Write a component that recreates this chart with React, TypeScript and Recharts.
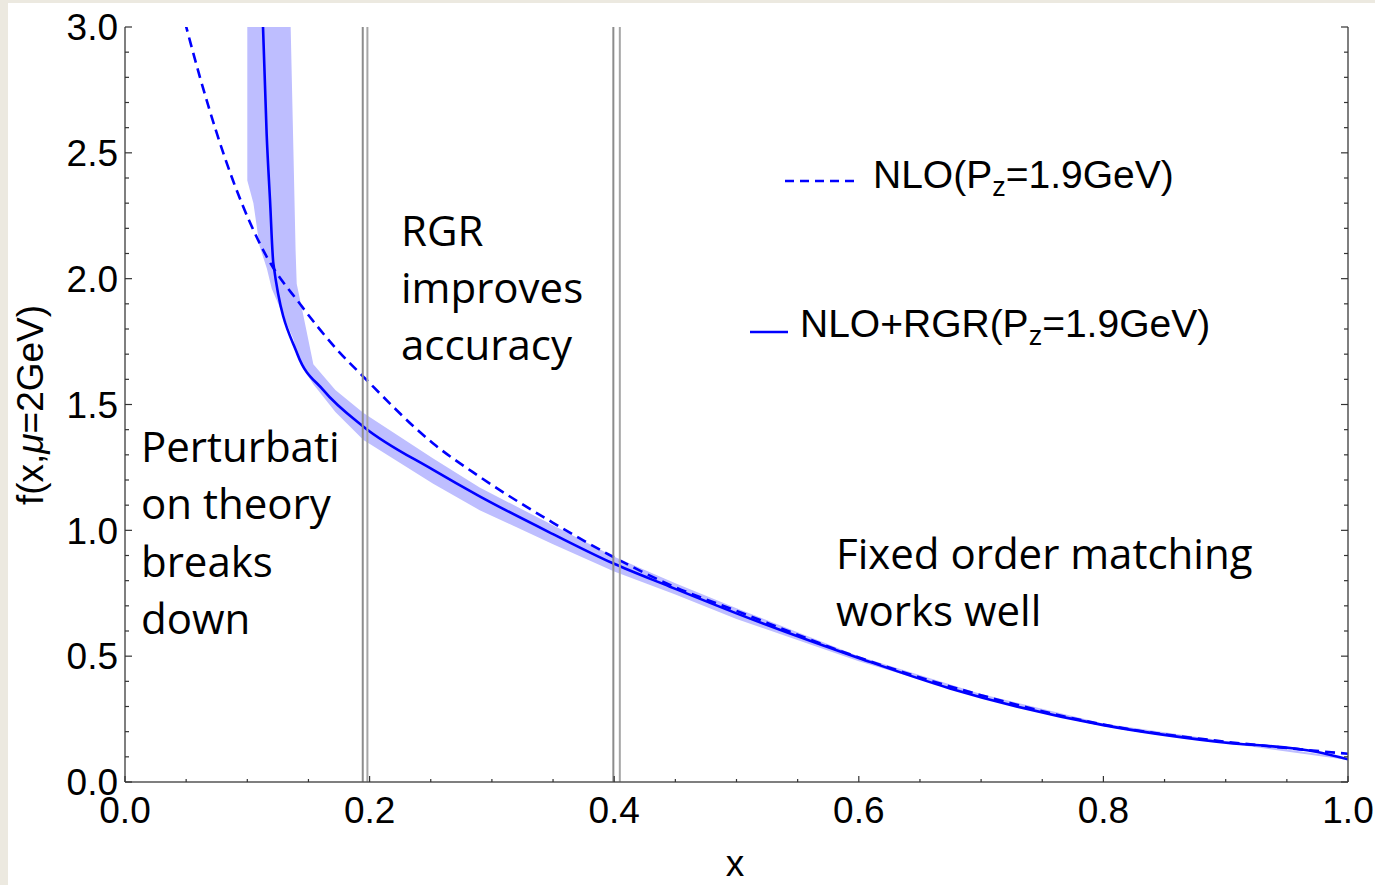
import React from 'react';
import {
  ComposedChart,
  Line,
  Area,
  XAxis,
  YAxis,
  ReferenceLine,
  Legend,
} from 'recharts';

// NLO(Pz=1.9GeV), dashed
const nloX = [0.049, 0.0613, 0.0883, 0.116, 0.143, 0.173, 0.195, 0.252, 0.29, 0.35, 0.399, 0.4456, 0.5, 0.6, 0.7, 0.8, 0.9, 0.95, 1.0];
const nloY = [3.02, 2.8, 2.39, 2.086, 1.9, 1.72, 1.61, 1.345, 1.213, 1.03, 0.895, 0.783, 0.68, 0.495, 0.345, 0.228, 0.16, 0.135, 0.112];

// NLO+RGR(Pz=1.9GeV), solid
const rgrX = [0.1125, 0.1158, 0.1186, 0.1213, 0.141, 0.162, 0.195, 0.252, 0.29, 0.35, 0.399, 0.4456, 0.5, 0.601, 0.6745, 0.8, 0.8926, 0.974, 1.0];
const rgrY = [3.05, 2.577, 2.31, 2.061, 1.7, 1.558, 1.412, 1.24, 1.135, 0.985, 0.869, 0.776, 0.67, 0.491, 0.372, 0.226, 0.16, 0.12, 0.09];

// uncertainty band of NLO+RGR
const bandX = [0.1, 0.105, 0.11, 0.116, 0.12, 0.131, 0.135, 0.1377, 0.1395, 0.1404, 0.146, 0.154, 0.172, 0.195, 0.252, 0.29, 0.35, 0.4, 0.45, 0.5, 0.6, 0.7, 0.8, 0.9, 1.0];
const bandLow = [2.39, 2.3, 2.13, 2.04, 1.96, 1.836, 1.79, 1.76, 1.72, 1.7, 1.64, 1.58, 1.47, 1.359, 1.185, 1.08, 0.945, 0.836, 0.745, 0.648, 0.48, 0.335, 0.222, 0.155, 0.087];
const bandHigh = [3.5, 3.5, 3.5, 3.5, 3.5, 3.5, 3.1, 2.51, 2.11, 1.98, 1.85, 1.66, 1.558, 1.466, 1.285, 1.17, 1.02, 0.895, 0.79, 0.69, 0.5, 0.35, 0.232, 0.163, 0.095];

// double gray separators
const dividerDark = [0.1944, 0.3993];
const dividerLight = [0.1982, 0.4046];

const xTicks = Array.from({ length: 21 }, (_, i) => i * 0.05);
const yTicks = Array.from({ length: 31 }, (_, i) => i * 0.1);

const nloData = nloX.map((x, i) => ({ x, y: nloY[i] }));
const rgrData = rgrX.map((x, i) => ({ x, y: rgrY[i] }));
const bandData = bandX.map((x, i) => ({ x, band: [bandLow[i], bandHigh[i]] }));

const AXIS_FONT = '"Liberation Sans", Arial, sans-serif';
const NOTE_FONT = '"Open Sans", "Noto Sans", sans-serif';
const BLUE = '#0000ff';
const TICK = '#333';

const onStep = (v: number, step: number) => Math.abs(v / step - Math.round(v / step)) < 1e-6;

const LeftTick = ({ x, y, payload }: any) => {
  const major = onStep(payload.value, 0.5);
  return (
    <g>
      <line x1={x} x2={x + (major ? 7 : 4)} y1={y} y2={y} stroke={TICK} strokeWidth={1.2} />
      {major && (
        <text x={x - 7} y={y} dy="0.36em" textAnchor="end" fontSize={37} fontFamily={AXIS_FONT} fill="#000">
          {payload.value.toFixed(1)}
        </text>
      )}
    </g>
  );
};

const RightTick = ({ x, y, payload }: any) => {
  const major = onStep(payload.value, 0.5);
  return <line x1={x} x2={x - (major ? 7 : 4)} y1={y} y2={y} stroke={TICK} strokeWidth={1.2} />;
};

const BottomTick = ({ x, y, payload }: any) => {
  const major = onStep(payload.value, 0.2);
  return (
    <g>
      <line x1={x} x2={x} y1={y} y2={y - (major ? 6 : 3)} stroke={TICK} strokeWidth={1.2} />
      {major && (
        <text x={x} y={y + 41} textAnchor="middle" fontSize={37} fontFamily={AXIS_FONT} fill="#000">
          {payload.value.toFixed(1)}
        </text>
      )}
    </g>
  );
};

const TopTick = ({ x, y, payload }: any) => {
  const major = onStep(payload.value, 0.2);
  return <line x1={x} x2={x} y1={y} y2={y + (major ? 6 : 3)} stroke={TICK} strokeWidth={1.2} />;
};

const renderLegend = () => (
  <svg width={520} height={220} style={{ overflow: 'visible', display: 'block' }}>
    <line x1={45} x2={118} y1={31} y2={31} stroke={BLUE} strokeWidth={2.5} strokeDasharray="9 6" />
    <text x={133} y={38} fontSize={39} fontFamily={AXIS_FONT} fill="#000">
      NLO(P<tspan dy={8} fontSize={27}>z</tspan>
      <tspan dy={-8}>=1.9GeV)</tspan>
    </text>
    <line x1={10} x2={48} y1={182} y2={182} stroke={BLUE} strokeWidth={2.5} />
    <text x={60} y={187} fontSize={39} fontFamily={AXIS_FONT} fill="#000">
      NLO+RGR(P<tspan dy={8} fontSize={27}>z</tspan>
      <tspan dy={-8}>=1.9GeV)</tspan>
    </text>
  </svg>
);

const notes = [
  { x: 141, y: 462, text: 'Perturbati' },
  { x: 141, y: 519, text: 'on theory' },
  { x: 141, y: 577, text: 'breaks' },
  { x: 141, y: 634, text: 'down' },
  { x: 401, y: 246, text: 'RGR' },
  { x: 401, y: 303, text: 'improves' },
  { x: 401, y: 360, text: 'accuracy' },
  { x: 836, y: 569, text: 'Fixed order matching' },
  { x: 836, y: 626, text: 'works well' },
];

export default function App() {
  return (
    <div style={{ position: 'absolute', left: 0, top: 0, width: 1375, height: 885, background: '#ece9e0', overflow: 'hidden' }}>
      <div style={{ position: 'absolute', left: 8, top: 3, width: 1367, height: 882, background: '#fff' }} />
      <div style={{ position: 'absolute', left: 0, top: 0 }}>
        <ComposedChart width={1375} height={885} margin={{ top: 27, right: 26, bottom: 0, left: 0 }}>
          <XAxis
            xAxisId="b"
            type="number"
            dataKey="x"
            domain={[0, 1]}
            allowDataOverflow
            ticks={xTicks}
            interval={0}
            height={103}
            tickSize={0}
            tickMargin={0}
            tick={<BottomTick />}
            axisLine={{ stroke: '#555', strokeWidth: 1.5 }}
          />
          <XAxis
            xAxisId="t"
            orientation="top"
            type="number"
            dataKey="x"
            domain={[0, 1]}
            allowDataOverflow
            ticks={xTicks}
            interval={0}
            height={0}
            tickSize={0}
            tickMargin={0}
            tick={<TopTick />}
            axisLine={{ stroke: '#555', strokeWidth: 1.5 }}
          />
          <YAxis
            yAxisId="l"
            type="number"
            domain={[0, 3]}
            allowDataOverflow
            ticks={yTicks}
            interval={0}
            width={125}
            tickSize={0}
            tickMargin={0}
            tick={<LeftTick />}
            axisLine={{ stroke: '#555', strokeWidth: 1.5 }}
          />
          <YAxis
            yAxisId="r"
            orientation="right"
            type="number"
            domain={[0, 3]}
            allowDataOverflow
            ticks={yTicks}
            interval={0}
            width={1}
            tickSize={0}
            tickMargin={0}
            tick={<RightTick />}
            axisLine={{ stroke: '#555', strokeWidth: 1.5 }}
          />
          <Legend content={renderLegend} layout="horizontal" align="center" verticalAlign="middle" wrapperStyle={{ left: 740, top: 150, width: 520, height: 220 }} />

          <Area
            xAxisId="b"
            yAxisId="l"
            data={bandData}
            dataKey="band"
            type="linear"
            stroke="none"
            fill="#bebeff"
            fillOpacity={1}
            isAnimationActive={false}
            name="band"
            legendType="none"
          />
          <Line
            xAxisId="b"
            yAxisId="l"
            data={nloData}
            dataKey="y"
            type="monotone"
            stroke={BLUE}
            strokeWidth={2.6}
            strokeDasharray="10 6"
            dot={false}
            isAnimationActive={false}
            name="NLO(Pz=1.9GeV)"
          />
          <Line
            xAxisId="b"
            yAxisId="l"
            data={rgrData}
            dataKey="y"
            type="monotone"
            stroke={BLUE}
            strokeWidth={2.6}
            dot={false}
            isAnimationActive={false}
            name="NLO+RGR(Pz=1.9GeV)"
          />
          {dividerDark.map((x) => (
            <ReferenceLine key={'d' + x} xAxisId="b" yAxisId="l" x={x} stroke="#8c8c8c" strokeWidth={2} />
          ))}
          {dividerLight.map((x) => (
            <ReferenceLine key={'l' + x} xAxisId="b" yAxisId="l" x={x} stroke="#a6a6a6" strokeWidth={2} />
          ))}
        </ComposedChart>
      </div>
      <svg width={1375} height={885} style={{ position: 'absolute', left: 0, top: 0, pointerEvents: 'none' }}>
        {notes.map((n) => (
          <text key={n.text} x={n.x} y={n.y} fontSize={42} fontFamily={NOTE_FONT} fill="#000">
            {n.text}
          </text>
        ))}
        <text x={735} y={876} textAnchor="middle" fontSize={37} fontFamily={AXIS_FONT} fill="#000">
          x
        </text>
        <text transform="translate(43,405) rotate(-90)" textAnchor="middle" fontSize={37} fontFamily={AXIS_FONT} fill="#000">
          f(x,<tspan fontStyle="italic">μ</tspan>=2GeV)
        </text>
      </svg>
    </div>
  );
}
